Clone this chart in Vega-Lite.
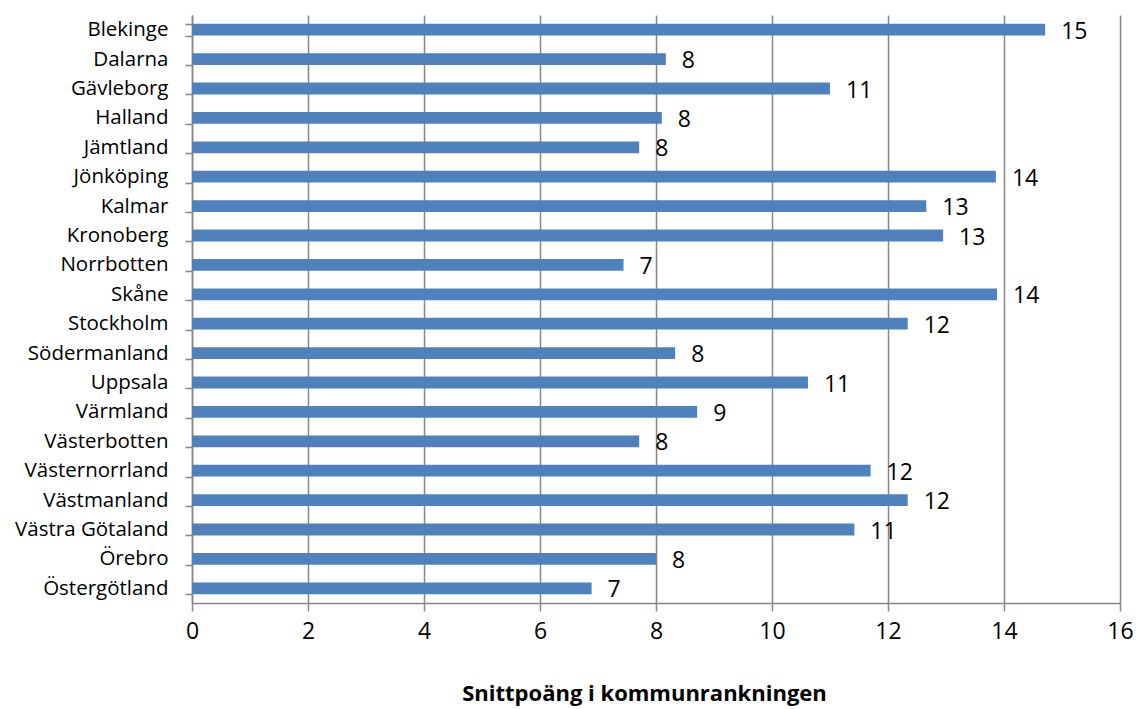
{
  "$schema": "https://vega.github.io/schema/vega-lite/v6.json",
  "autosize": {"type": "none"},
  "width": 928,
  "height": 588,
  "padding": {"left": 192, "top": 15, "right": 18, "bottom": 106},
  "background": "white",
  "config": {
    "view": {"stroke": null},
    "font": "Open Sans",
    "axis": {"labelFont": "Open Sans", "titleFont": "Open Sans"}
  },
  "data": {
    "values": [
      {"region": "Blekinge", "value": 14.71},
      {"region": "Dalarna", "value": 8.17},
      {"region": "Gävleborg", "value": 11.0},
      {"region": "Halland", "value": 8.10},
      {"region": "Jämtland", "value": 7.71},
      {"region": "Jönköping", "value": 13.86},
      {"region": "Kalmar", "value": 12.66},
      {"region": "Kronoberg", "value": 12.95},
      {"region": "Norrbotten", "value": 7.44},
      {"region": "Skåne", "value": 13.88},
      {"region": "Stockholm", "value": 12.34},
      {"region": "Södermanland", "value": 8.33},
      {"region": "Uppsala", "value": 10.62},
      {"region": "Värmland", "value": 8.71},
      {"region": "Västerbotten", "value": 7.71},
      {"region": "Västernorrland", "value": 11.70},
      {"region": "Västmanland", "value": 12.34},
      {"region": "Västra Götaland", "value": 11.42},
      {"region": "Örebro", "value": 8.0},
      {"region": "Östergötland", "value": 6.89}
    ]
  },
  "encoding": {
    "y": {
      "field": "region",
      "type": "nominal",
      "sort": null,
      "scale": {"paddingInner": 0.6, "paddingOuter": 0.3},
      "axis": {
        "title": null,
        "tickBand": "extent",
        "tickSize": 7,
        "tickColor": "#868686",
        "tickWidth": 1.5,
        "domainColor": "#868686",
        "domainWidth": 1.5,
        "labelFontSize": 20.5,
        "labelColor": "#000000",
        "labelPadding": 17,
        "grid": false
      }
    },
    "x": {
      "field": "value",
      "type": "quantitative",
      "scale": {"domain": [0, 16], "nice": false},
      "axis": {
        "values": [0, 2, 4, 6, 8, 10, 12, 14, 16],
        "format": "d",
        "title": "Snittpoäng i kommunrankningen",
        "titleFontSize": 22,
        "titleFontWeight": "bold",
        "titleColor": "#000000",
        "titleX": 452,
        "titleY": 90,
        "titleBaseline": "middle",
        "grid": true,
        "gridColor": "#868686",
        "gridWidth": 1.5,
        "tickSize": 8,
        "tickColor": "#868686",
        "tickWidth": 1.5,
        "domainColor": "#868686",
        "domainWidth": 1.5,
        "labelFontSize": 23,
        "labelColor": "#000000",
        "labelPadding": 9,
        "labelFlush": false
      }
    }
  },
  "layer": [
    {
      "mark": {"type": "bar", "color": "#4F81BD"}
    },
    {
      "mark": {"type": "text", "align": "left", "dx": 16, "dy": 2, "fontSize": 23, "color": "#000000", "baseline": "middle"},
      "encoding": {
        "text": {"field": "value", "type": "quantitative", "format": ".0f"}
      }
    }
  ]
}
